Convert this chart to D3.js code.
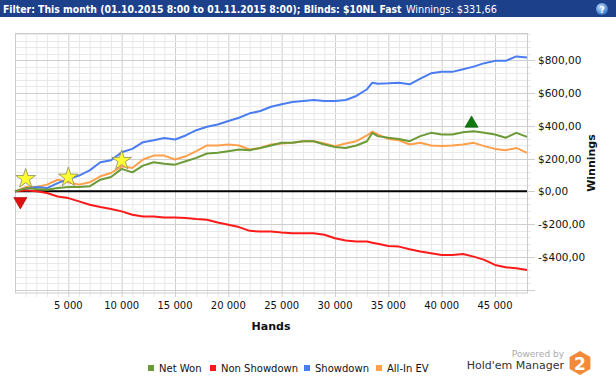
<!DOCTYPE html>
<html>
<head>
<meta charset="utf-8">
<script src="https://cdn.jsdelivr.net/npm/d3@7/dist/d3.min.js"></script>
<style>
    body { margin: 0; background: #fff; }
    svg text { font-family: "DejaVu Sans", Verdana, sans-serif; }
</style>
</head>
<body>
<div id="chart"></div>
<script>
// hands played (x values shared by all series)
var hands = [0, 1000, 2000, 3000, 4000, 5000, 6000, 7000, 8000, 9000,
    10000, 11000, 12000, 13000, 14000, 15000, 16000, 17000, 18000, 19000,
    20000, 21000, 22000, 23000, 24000, 25000, 26000, 27000, 28000, 29000,
    30000, 31000, 32000, 33000, 33500, 34000, 35000, 36000, 37000, 38000,
    39000, 40000, 41000, 42000, 43000, 44000, 45000, 46000, 47000, 48000];

var netWon = [0, 20, 14, 10, 20, 26, 26, 31, 71, 88,
    137, 116, 157, 178, 169, 163, 184, 204, 231, 235,
    245, 255, 251, 265, 280, 296, 296, 306, 306, 286,
    271, 265, 280, 306, 357, 337, 327, 320, 306, 337,
    357, 347, 347, 361, 367, 357, 347, 327, 357, 332];

var nonShowdown = [0, 6, 0, -10, -31, -41, -61, -82, -96, -108,
    -122, -143, -153, -153, -159, -159, -163, -169, -173, -190,
    -204, -218, -241, -245, -245, -251, -255, -255, -255, -265,
    -286, -300, -306, -306, -313, -320, -333, -337, -353, -367,
    -378, -388, -388, -382, -398, -418, -449, -463, -469, -480];

var showdown = [0, 14, 26, 20, 50, 75, 96, 128, 178, 190,
    239, 259, 300, 312, 326, 316, 341, 373, 394, 408,
    429, 449, 476, 490, 516, 531, 545, 551, 557, 551,
    551, 557, 582, 623, 663, 657, 659, 663, 653, 688,
    720, 729, 729, 745, 761, 782, 796, 796, 823, 816];

var allInEV = [0, 26, 26, 41, 71, 55, 41, 55, 92, 112,
    153, 143, 194, 218, 218, 194, 214, 245, 280, 280,
    286, 280, 255, 265, 286, 292, 296, 306, 306, 292,
    276, 292, 306, 341, 365, 347, 320, 312, 286, 296,
    280, 276, 280, 286, 296, 276, 259, 251, 265, 235];

var seriesNames = ["Net Won", "Non Showdown", "Showdown", "All-In EV"];
var seriesColors = ["#6b9a36", "#ff1a1a", "#4a7cf2", "#ffa04c"];

var xTicks = [5000, 10000, 15000, 20000, 25000, 30000, 35000, 40000, 45000];
var yTicks = [-400, -200, 0, 200, 400, 600, 800];

// markers: stars (big hands), lowest and highest point
var starHands = [1000, 5000, 10000];
var starValues = [77, 86, 188];
var lowMark = {hand: 500, value: -61};
var highMark = {hand: 42800, value: 414};

var width = 616, height = 380;

var svg = d3.select("#chart").append("svg")
    .attr("width", width)
    .attr("height", height);

// title bar
svg.append("rect")
    .attr("x", 0).attr("y", 0)
    .attr("width", width).attr("height", 17)
    .attr("fill", "#1d408a");

// fit a text into a given width by adjusting its font size
function fitText(sel, w) {
    var len = sel.node().getComputedTextLength();
    var fs = parseFloat(sel.style("font-size"));
    if (len > w) sel.style("font-size", (fs * w / len) + "px");
}

var t1 = svg.append("text")
    .attr("x", 3).attr("y", 12.5)
    .attr("fill", "#fff")
    .style("font-family", "'Liberation Sans Narrow', 'DejaVu Sans Condensed', sans-serif")
    .style("font-size", "11.5px").style("font-weight", "bold")
    .text("Filter: This month (01.10.2015 8:00 to 01.11.2015 8:00); Blinds: $10NL Fast");
fitText(t1, 399);
var t2 = svg.append("text")
    .attr("x", 406).attr("y", 12.5)
    .attr("fill", "#fff")
    .style("font-family", "'Liberation Sans Narrow', 'DejaVu Sans Condensed', sans-serif")
    .style("font-size", "11.5px")
    .text("Winnings: $331,66");
fitText(t2, 91);

// help icon
var grad = svg.append("defs").append("radialGradient")
    .attr("id", "helpGrad").attr("cx", "40%").attr("cy", "35%").attr("r", "70%");
grad.append("stop").attr("offset", "0%").attr("stop-color", "#bfe0ff");
grad.append("stop").attr("offset", "100%").attr("stop-color", "#2b6fc4");
svg.append("circle")
    .attr("cx", 602).attr("cy", 9).attr("r", 6)
    .attr("fill", "url(#helpGrad)");
svg.append("text")
    .attr("x", 602).attr("y", 12.5)
    .attr("text-anchor", "middle")
    .attr("fill", "#fff")
    .style("font-size", "9px").style("font-weight", "bold")
    .text("?");

var x = d3.scaleLinear().domain([0, 48000]).range([15, 527]);
var y = d3.scaleLinear().domain([-620, 966]).range([293, 33]);

var plot = svg.append("g");

// grid
var minorX = d3.range(1000, 48000, 1000);
var minorY = d3.range(-600, 966, 40);

plot.selectAll(".gx").data(minorX).enter().append("line")
    .attr("x1", function(d) { return x(d) + 0.5; })
    .attr("x2", function(d) { return x(d) + 0.5; })
    .attr("y1", 33).attr("y2", 297)
    .attr("stroke", function(d) { return d % 5000 === 0 ? "#cfcfcf" : "#e9e9e9"; })
    .attr("stroke-width", 1);

plot.selectAll(".gy").data(minorY).enter().append("line")
    .attr("y1", function(d) { return Math.round(y(d)) + 0.5; })
    .attr("y2", function(d) { return Math.round(y(d)) + 0.5; })
    .attr("x1", 15)
    .attr("x2", function(d) { return d % 200 === 0 ? 535 : 531; })
    .attr("stroke", function(d) { return d % 200 === 0 ? "#cfcfcf" : "#e9e9e9"; })
    .attr("stroke-width", 1);

// border
plot.append("rect")
    .attr("x", 15.5).attr("y", 33.5)
    .attr("width", 512).attr("height", 259.5)
    .attr("fill", "none")
    .attr("stroke", "#cccccc");

// zero line
plot.append("line")
    .attr("x1", 15).attr("x2", 527)
    .attr("y1", y(0)).attr("y2", y(0))
    .attr("stroke", "#000").attr("stroke-width", 2);

// axes labels
svg.selectAll(".xl").data(xTicks).enter().append("text")
    .attr("x", function(d) { return x(d); })
    .attr("y", 309)
    .attr("text-anchor", "middle")
    .attr("fill", "#111")
    .style("font-size", "10px")
    .text(function(d) { return d3.format(",")(d).replace(/,/g, " "); });

svg.selectAll(".yl").data(yTicks).enter().append("text")
    .attr("x", 538)
    .attr("y", function(d) { return y(d) + 4; })
    .attr("fill", "#111")
    .style("font-size", "10.5px")
    .text(function(d) { return (d < 0 ? "-$" : "$") + Math.abs(d) + ",00"; });

svg.append("text")
    .attr("x", 271).attr("y", 330)
    .attr("text-anchor", "middle")
    .style("font-size", "11px").style("font-weight", "bold")
    .attr("fill", "#111")
    .text("Hands");

svg.append("text")
    .attr("transform", "translate(595,163) rotate(-90)")
    .attr("text-anchor", "middle")
    .style("font-size", "11px").style("font-weight", "bold")
    .attr("fill", "#111")
    .text("Winnings");

// lines
var seriesData = [netWon, nonShowdown, showdown, allInEV];
var line = d3.line()
    .x(function(d, i) { return x(hands[i]); })
    .y(function(d) { return y(d); });

var drawOrder = [3, 2, 1, 0];
drawOrder.forEach(function(k) {
    plot.append("path")
        .datum(seriesData[k])
        .attr("d", line)
        .attr("fill", "none")
        .attr("stroke", seriesColors[k])
        .attr("stroke-width", 2)
        .attr("stroke-linejoin", "round");
});

// markers
var star = d3.symbol().type(d3.symbolStar).size(120);
plot.selectAll(".star").data(starHands).enter().append("path")
    .attr("d", star)
    .attr("transform", function(d, i) { return "translate(" + x(d) + "," + y(starValues[i]) + ")"; })
    .attr("fill", "#ffff33")
    .attr("stroke", "#8a8a60")
    .attr("stroke-width", 0.8);

var tri = d3.symbol().type(d3.symbolTriangle).size(75);
plot.append("path")
    .attr("d", tri)
    .attr("transform", "translate(" + x(lowMark.hand) + "," + y(lowMark.value) + ") rotate(180)")
    .attr("fill", "#e01010")
    .attr("stroke", "#a00000").attr("stroke-width", 0.6);
plot.append("path")
    .attr("d", tri)
    .attr("transform", "translate(" + x(highMark.hand) + "," + y(highMark.value) + ")")
    .attr("fill", "#0d7a0d")
    .attr("stroke", "#0a5a0a").attr("stroke-width", 0.6);

// legend
var legendX = [148, 210, 304, 376];
var legend = svg.selectAll(".leg").data(seriesNames).enter().append("g")
    .attr("transform", function(d, i) { return "translate(" + legendX[i] + ",365)"; });
legend.append("rect")
    .attr("width", 6).attr("height", 6)
    .attr("fill", function(d, i) { return seriesColors[i]; });
legend.append("text")
    .attr("x", 11).attr("y", 7)
    .style("font-size", "10px")
    .attr("fill", "#111")
    .text(function(d) { return d; });

// powered by logo
svg.append("text")
    .attr("x", 564).attr("y", 357)
    .attr("text-anchor", "end")
    .attr("fill", "#aaaaaa")
    .style("font-size", "9px")
    .text("Powered by");
svg.append("text")
    .attr("x", 564).attr("y", 369)
    .attr("text-anchor", "end")
    .attr("fill", "#333")
    .style("font-size", "11px")
    .text("Hold'em Manager");

var hex = d3.range(6).map(function(i) {
    var a = Math.PI / 3 * i - Math.PI / 2;
    return [580 + 12 * Math.cos(a), 363 + 12 * Math.sin(a)];
});
svg.append("path")
    .attr("d", "M" + hex.join("L") + "Z")
    .attr("fill", "#f28a3a");
svg.append("text")
    .attr("x", 580).attr("y", 369.5)
    .attr("text-anchor", "middle")
    .attr("fill", "#fff")
    .style("font-size", "17px").style("font-weight", "bold")
    .text("2");
</script>
</body>
</html>
